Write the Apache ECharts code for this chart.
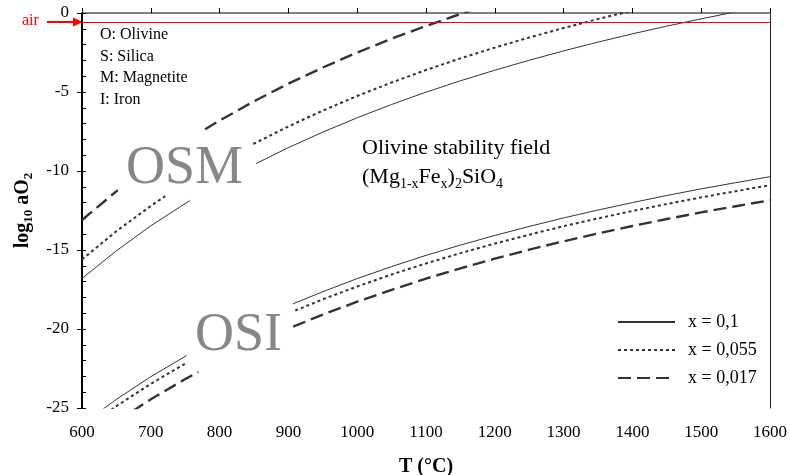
<!DOCTYPE html>
<html>
<head>
<meta charset="utf-8">
<script src="https://cdn.jsdelivr.net/npm/echarts@6/dist/echarts.min.js"></script>
<style>
  html, body { margin: 0; padding: 0; background: #fff; }
  #chart { width: 790px; height: 475px; }
</style>
</head>
<body>
<div id="chart"></div>
<script>
// temperature (°C) vs log10 aO2
// each curve is broken where the OSM / OSI labels sit
const osmSolidA = [[600, -16.80], [650, -15.05], [700, -13.47], [750, -12.06], [757, -11.87]]
const osmSolidB = [[853, -9.53], [900, -8.52], [950, -7.54], [1000, -6.63], [1050, -5.79], [1100, -5.01], [1150, -4.29], [1200, -3.62], [1250, -2.99], [1300, -2.40], [1350, -1.84], [1400, -1.32], [1450, -0.83], [1500, -0.37], [1550, 0.07]]
const osmDotA = [[600, -15.60], [650, -13.81], [700, -12.21], [721, -11.59]]
const osmDotB = [[849, -8.29], [900, -7.18], [950, -6.18], [1000, -5.25], [1050, -4.40], [1100, -3.61], [1150, -2.87], [1200, -2.19], [1250, -1.55], [1300, -0.95], [1350, -0.38], [1400, 0.15]]
const osmDashA = [[600, -13.10], [652, -11.21]]
const osmDashB = [[779, -7.36], [800, -6.81], [850, -5.59], [900, -4.47], [950, -3.45], [1000, -2.50], [1050, -1.63], [1100, -0.82], [1150, -0.06], [1200, 0.64]]

const osiSolidA = [[600, -26.04], [650, -24.45], [700, -23.02], [752, -21.68]]
const osiSolidB = [[907, -18.40], [950, -17.64], [1000, -16.81], [1050, -16.05], [1100, -15.34], [1150, -14.69], [1200, -14.08], [1250, -13.51], [1300, -12.97], [1350, -12.47], [1400, -12.00], [1450, -11.55], [1500, -11.13], [1550, -10.74], [1600, -10.36]]
const osiDotA = [[600, -26.46], [650, -24.88], [700, -23.47], [752, -22.14]]
const osiDotB = [[910, -18.83], [950, -18.12], [1000, -17.31], [1050, -16.55], [1100, -15.85], [1150, -15.20], [1200, -14.59], [1250, -14.03], [1300, -13.49], [1350, -13.00], [1400, -12.53], [1450, -12.09], [1500, -11.67], [1550, -11.28], [1600, -10.90]]
const osiDashA = [[650, -25.87], [700, -24.45], [750, -23.17], [769, -22.72]]
const osiDashB = [[907, -19.85], [950, -19.09], [1000, -18.27], [1050, -17.52], [1100, -16.81], [1150, -16.16], [1200, -15.55], [1250, -14.98], [1300, -14.45], [1350, -13.95], [1400, -13.48], [1450, -13.04], [1500, -12.62], [1550, -12.23], [1600, -11.85]]

const seriesNames = ['x = 0,1', 'x = 0,055', 'x = 0,017']
const airLevel = -0.6
const xTicks = [600, 1600, 100]
const yTicks = [-25, 0, 5]

const serif = "'Liberation Serif', 'Times New Roman', serif"
const GAP = ['-', '-']

function join() {
  const out = []
  for (let i = 0; i < arguments.length; i++) {
    if (i > 0) out.push(GAP)
    out.push(...arguments[i])
  }
  return out
}

const chart = echarts.init(document.getElementById('chart'))

const lineBase = {
  type: 'line',
  symbol: 'none',
  showSymbol: false,
  connectNulls: false,
  silent: true,
  animation: false,
  clip: true
}

chart.setOption({
  animation: false,
  grid: { left: 82, right: 20, top: 13, bottom: 67, outerBoundsMode: 'none', containLabel: false },
  legend: {
    orient: 'vertical',
    left: 612,
    top: 308,
    itemWidth: 57,
    itemHeight: 10,
    itemGap: 10,
    data: seriesNames,
    itemStyle: { opacity: 0 },
    textStyle: { fontFamily: serif, fontSize: 18, color: '#000', padding: [0, 0, 0, 8] }
  },
  xAxis: [
    {
      type: 'value',
      min: xTicks[0],
      max: xTicks[1],
      interval: xTicks[2],
      name: 'T (°C)',
      nameLocation: 'middle',
      nameGap: 49,
      nameTextStyle: { fontFamily: serif, fontSize: 20, fontWeight: 'bold', color: '#000' },
      axisLine: { lineStyle: { color: '#000', width: 2 } },
      axisTick: { inside: true, length: 5, lineStyle: { color: '#000', width: 1 } },
      axisLabel: { fontFamily: serif, fontSize: 17, color: '#000', margin: 16, formatter: v => String(v) },
      splitLine: { show: false }
    },
    {
      type: 'value',
      position: 'top',
      min: xTicks[0],
      max: xTicks[1],
      axisLine: { lineStyle: { color: '#808080', width: 2 } },
      axisTick: { show: false },
      axisLabel: { show: false },
      splitLine: { show: false }
    }
  ],
  yAxis: [
    {
      type: 'value',
      min: yTicks[0],
      max: yTicks[1],
      interval: yTicks[2],
      name: '{b|log}{s|10}{b| aO}{s|2}',
      nameLocation: 'middle',
      nameRotate: 90,
      nameGap: 46,
      nameTextStyle: {
        rich: {
          b: { fontFamily: serif, fontSize: 20, fontWeight: 'bold', color: '#000', verticalAlign: 'top', lineHeight: 22 },
          s: { fontFamily: serif, fontSize: 13, fontWeight: 'bold', color: '#000', verticalAlign: 'top', padding: [10, 0, 0, 0] }
        }
      },
      axisLine: { lineStyle: { color: '#000', width: 2 } },
      axisTick: { inside: true, length: 4, lineStyle: { color: '#000', width: 1 } },
      minorTick: { show: true, splitNumber: 5, length: 4, lineStyle: { color: '#000', width: 1 } },
      axisLabel: { fontFamily: serif, fontSize: 17, color: '#000', margin: 13 },
      splitLine: { show: false }
    },
    {
      type: 'value',
      position: 'left',
      min: yTicks[0],
      max: yTicks[1],
      interval: yTicks[2],
      axisLine: { show: false },
      axisTick: { show: true, length: 5, lineStyle: { color: '#000', width: 1 } },
      axisLabel: { show: false },
      splitLine: { show: false }
    },
    {
      type: 'value',
      position: 'right',
      min: yTicks[0],
      max: yTicks[1],
      axisLine: { show: true, lineStyle: { color: '#222', width: 1 } },
      axisTick: { show: false },
      axisLabel: { show: false },
      splitLine: { show: false }
    }
  ],
  series: [
    Object.assign({}, lineBase, {
      name: seriesNames[0],
      data: join(osmSolidA, osmSolidB, osiSolidA, osiSolidB),
      lineStyle: { color: '#333', width: 1, type: 'solid' },
      itemStyle: { color: '#333' },
      markLine: {
        silent: true,
        symbol: 'none',
        label: { show: false },
        lineStyle: { color: '#ff0000', width: 1, type: 'solid' },
        data: [{ yAxis: airLevel }]
      }
    }),
    Object.assign({}, lineBase, {
      name: seriesNames[1],
      data: join(osmDotA, osmDotB, osiDotA, osiDotB),
      lineStyle: { color: '#333', width: 2, type: [3, 3] },
      itemStyle: { color: '#333' }
    }),
    Object.assign({}, lineBase, {
      name: seriesNames[2],
      data: join(osmDashA, osmDashB, osiDashA, osiDashB),
      lineStyle: { color: '#333', width: 2.4, type: [13, 6] },
      itemStyle: { color: '#333' }
    })
  ],
  graphic: [
    // key of the phase letters
    { type: 'text', left: 100, top: 27, style: { text: 'O: Olivine', font: '16px ' + serif, fill: '#000' } },
    { type: 'text', left: 100, top: 49, style: { text: 'S: Silica', font: '16px ' + serif, fill: '#000' } },
    { type: 'text', left: 100, top: 70, style: { text: 'M: Magnetite', font: '16px ' + serif, fill: '#000' } },
    { type: 'text', left: 100, top: 92, style: { text: 'I: Iron', font: '16px ' + serif, fill: '#000' } },
    // field labels
    { type: 'text', left: 126, top: 142, style: { text: 'OSM', font: '54px ' + serif, fill: '#878787' } },
    { type: 'text', left: 195, top: 309, style: { text: 'OSI', font: '54px ' + serif, fill: '#878787' } },
    { type: 'text', left: 362, top: 137, style: { text: 'Olivine stability field', font: '22px ' + serif, fill: '#000' } },
    {
      type: 'text',
      left: 362,
      top: 166,
      style: {
        text: '{n|(Mg}{s|1-x}{n|Fe}{s|x}{n|)}{s|2}{n|SiO}{s|4}',
        rich: {
          n: { fontFamily: serif, fontSize: 22, fill: '#000', verticalAlign: 'top', lineHeight: 24 },
          s: { fontFamily: serif, fontSize: 14, fill: '#000', verticalAlign: 'top', padding: [11, 0, 0, 0] }
        }
      }
    },
    // air marker
    { type: 'text', left: 22, top: 13, style: { text: 'air', font: '16px ' + serif, fill: '#ff0000' } },
    { type: 'line', shape: { x1: 47, y1: 22, x2: 74, y2: 22 }, style: { stroke: '#ff0000', lineWidth: 2 } },
    { type: 'polygon', shape: { points: [[73, 17.5], [83, 22], [73, 26.5]] }, style: { fill: '#ff0000' } }
  ]
})
</script>
</body>
</html>
